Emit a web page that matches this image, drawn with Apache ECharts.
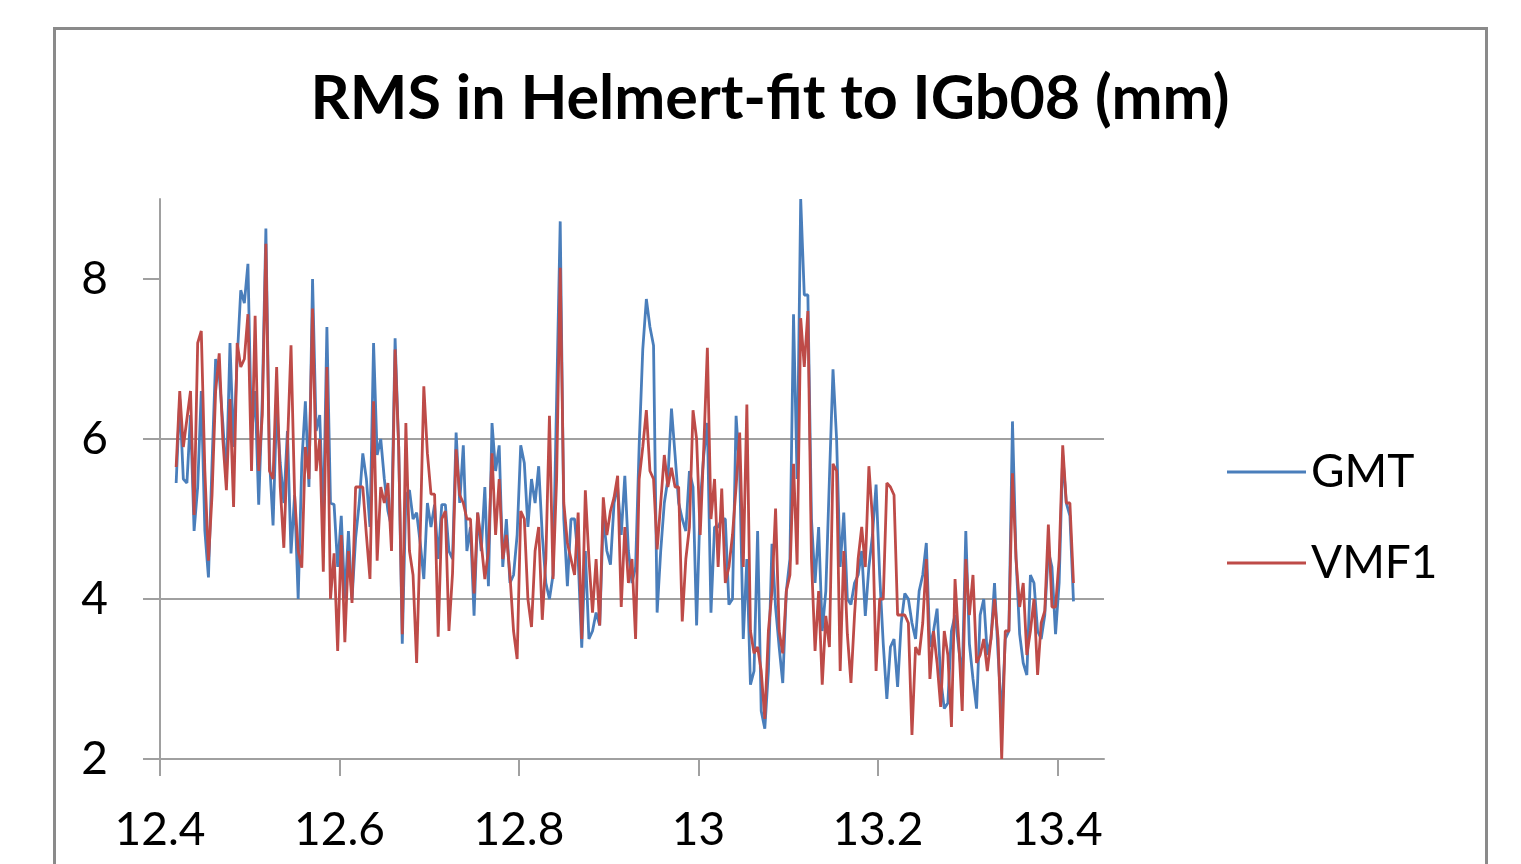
<!DOCTYPE html>
<html>
<head>
<meta charset="utf-8">
<script src="https://cdn.jsdelivr.net/npm/echarts@6/dist/echarts.min.js"></script>
<style>
html,body{margin:0;padding:0;background:#fff;}
#chart{width:1521px;height:864px;}
</style>
</head>
<body>
<div id="chart"></div>
<script>
const titleText = 'RMS in Helmert-fit to IGb08 (mm)';
const seriesNames = ['GMT', 'VMF1'];
const xTickValues = [12.4, 12.6, 12.8, 13.0, 13.2, 13.4];
const yTickValues = [2, 4, 6, 8];
const T0 = 12.418;   // first epoch (decimal year - 2000)
const STEP = 0.004;  // sampling step of the epochs

const gmt = [
5.45,6.5,5.5,5.45,6.3,4.85,5.4,6.6,4.85,4.27,
5.7,7.0,6.8,6.2,5.5,7.2,5.9,7.0,7.86,7.7,
8.19,6.03,6.6,5.18,6.5,8.63,5.75,4.92,6.4,5.7,
5.2,6.1,4.57,5.3,4.0,5.7,6.47,5.4,8.0,6.1,
6.3,4.94,7.4,5.2,5.18,4.4,5.04,4.0,4.85,4.0,
4.76,5.2,5.82,5.5,4.9,7.2,5.8,6.0,5.5,5.1,
4.9,7.26,5.9,3.44,5.3,5.36,5.0,5.08,4.7,4.25,
5.2,4.9,5.18,4.5,5.18,5.18,4.6,4.5,6.08,5.2,
5.92,4.6,4.9,3.79,5.08,4.6,5.4,4.16,6.2,5.6,
5.92,4.4,5.0,4.2,4.3,4.8,5.92,5.7,4.9,5.5,
5.2,5.66,4.8,4.2,4.0,4.3,6.5,8.72,5.0,4.16,
5.0,5.0,4.5,3.39,4.6,3.5,3.6,3.83,3.67,5.04,
4.6,4.43,5.2,5.4,4.8,5.54,4.6,4.2,4.4,5.92,
7.12,7.75,7.4,7.17,3.83,4.6,5.2,5.5,6.38,5.8,
5.2,5.0,4.85,5.6,5.4,3.67,5.2,5.8,6.2,3.83,
4.9,4.9,5.0,5.0,3.93,4.0,6.29,5.6,3.5,4.5,
2.93,3.1,4.85,2.6,2.38,3.1,4.69,3.9,3.4,2.95,
4.1,4.5,7.56,5.5,9.0,7.8,7.8,5.0,4.2,4.9,
3.6,4.1,5.5,6.87,6.0,4.4,5.08,4.0,3.93,4.2,
4.3,4.6,3.79,4.4,4.8,5.43,4.3,3.44,2.75,3.4,
3.5,2.9,3.7,4.07,4.0,3.7,3.5,4.1,4.3,4.7,
3.4,3.6,3.88,3.0,2.63,2.7,3.6,3.8,3.4,3.0,
4.85,3.44,3.0,2.63,3.8,4.0,3.3,3.5,4.2,3.3,
2.5,3.5,3.6,6.22,4.5,3.56,3.2,3.05,4.3,4.2,
3.6,3.5,3.8,4.6,4.4,3.56,4.2,5.8,5.2,5.04,
3.97
];

const vmf1 = [
5.65,6.6,5.9,6.25,6.6,5.05,7.2,7.35,5.6,4.48,
5.3,6.6,7.07,6.0,5.36,6.5,5.15,7.2,6.9,7.0,
7.56,5.6,7.54,5.6,6.3,8.44,5.6,5.5,6.9,5.4,
4.64,5.9,7.17,5.3,4.6,4.39,5.9,5.5,7.63,5.6,
6.0,4.34,6.9,4.0,4.57,3.35,4.8,3.46,4.6,3.95,
5.4,5.4,5.4,4.8,4.25,6.47,4.48,5.4,5.2,5.45,
4.6,7.12,5.9,3.56,6.2,4.6,4.3,3.2,4.8,6.66,
5.82,5.31,5.31,3.53,5.0,5.1,3.6,4.32,5.87,5.3,
5.2,5.0,5.0,4.07,5.08,4.7,4.25,4.6,5.82,4.8,
5.5,4.5,4.8,4.3,3.6,3.25,5.1,5.0,4.0,3.65,
4.6,4.9,3.74,4.5,6.29,4.25,5.5,8.14,5.2,4.7,
4.5,4.3,5.08,3.5,5.36,4.5,3.83,4.5,3.67,5.27,
4.8,5.1,5.27,5.54,3.9,4.9,4.2,4.5,3.5,5.5,
5.9,6.36,5.6,5.5,4.62,5.2,5.8,5.4,5.64,5.4,
5.4,3.72,4.5,4.9,6.36,6.0,4.8,5.9,7.14,5.0,
5.5,4.4,5.38,4.2,4.4,4.8,5.4,6.08,4.4,6.43,
3.6,3.32,3.4,3.1,2.5,3.6,4.1,5.13,3.6,3.32,
4.1,4.3,5.69,4.43,7.51,6.9,7.6,4.5,3.35,4.1,
2.93,3.79,3.4,5.69,5.6,3.1,4.6,3.56,2.95,3.8,
4.5,4.9,4.4,5.66,5.0,3.1,4.0,4.0,5.45,5.4,
5.3,3.8,3.8,3.8,3.7,2.3,3.4,3.3,3.7,4.5,
3.0,3.6,3.2,2.65,3.6,3.3,2.4,4.25,3.5,2.6,
4.5,3.8,4.3,3.2,3.3,3.5,3.1,3.5,4.0,3.5,
2.0,3.6,3.6,5.57,4.5,3.9,4.2,3.3,3.6,4.0,
3.05,3.7,3.85,4.93,3.9,3.9,4.5,5.92,5.2,5.2,
4.2
];

const epochs = gmt.map((_, i) => +(T0 + i * STEP).toFixed(3));

const chart = echarts.init(document.getElementById('chart'), null, {renderer: 'canvas'});
const FONT = 'Lato, "Open Sans", sans-serif';
const axisGray = '#a0a0a0';

chart.setOption({
  animation: false,
  backgroundColor: '#ffffff',
  graphic: [{
    type: 'rect', z: -10, silent: true,
    shape: {x: 54.5, y: 28.5, width: 1432, height: 900},
    style: {fill: '#ffffff', stroke: '#8a8a8a', lineWidth: 3}
  }],
  title: {
    text: titleText,
    left: 770, top: 69, textAlign: 'center', padding: 0,
    textStyle: {fontFamily: FONT, fontWeight: 'bold', fontSize: 61, color: '#000'}
  },
  legend: {
    orient: 'vertical',
    left: 1227, top: 449, padding: 0,
    itemWidth: 79, itemHeight: 3, itemGap: 45,
    icon: 'rect',
    textStyle: {fontFamily: FONT, fontSize: 46, color: '#000', lineHeight: 46},
    data: seriesNames
  },
  grid: {left: 160, right: 417, top: 199, bottom: 105, containLabel: false},
  xAxis: {
    type: 'value', min: 12.4, max: 13.452,
    axisLine: {show: true, onZero: false, lineStyle: {color: axisGray, width: 2}},
    axisTick: {show: true, length: 17, lineStyle: {color: axisGray, width: 2}, customValues: xTickValues},
    axisLabel: {fontFamily: FONT, fontSize: 46, color: '#000', margin: 48, customValues: xTickValues,
      formatter: v => String(+v.toFixed(1))},
    splitLine: {show: false}
  },
  yAxis: {
    type: 'value', min: 2, max: 9, interval: 2,
    axisLine: {show: true, lineStyle: {color: axisGray, width: 2}},
    axisTick: {show: true, length: 17, lineStyle: {color: axisGray, width: 2}, customValues: yTickValues},
    axisLabel: {fontFamily: FONT, fontSize: 46, color: '#000', margin: 52, customValues: yTickValues},
    splitLine: {show: true, showMaxLine: false, lineStyle: {color: axisGray, width: 2}}
  },
  series: [
    {name: seriesNames[0], type: 'line', showSymbol: false, symbol: 'none',
     data: epochs.map((t, i) => [t, gmt[i]]),
     lineStyle: {color: '#4a7ebb', width: 2.8}, itemStyle: {color: '#4a7ebb'}},
    {name: seriesNames[1], type: 'line', showSymbol: false, symbol: 'none',
     data: epochs.map((t, i) => [t, vmf1[i]]),
     lineStyle: {color: '#be4b48', width: 2.8}, itemStyle: {color: '#be4b48'}}
  ]
});
</script>
</body>
</html>
